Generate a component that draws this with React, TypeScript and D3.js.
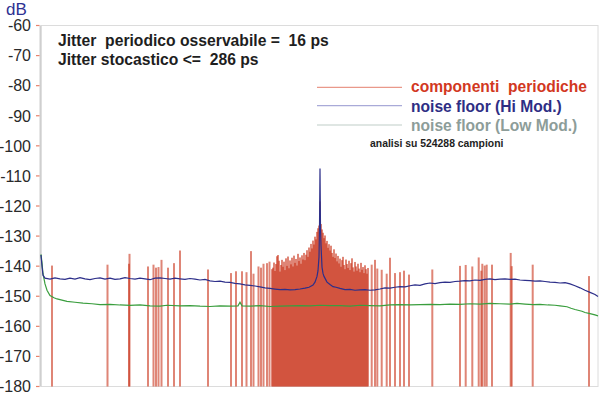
import React from "react";
import * as d3 from "d3";

// offset from the carrier, in FFT bins (carrier at 0)
const binRange = [-279, 278];
const yTicks = [-60, -70, -80, -90, -100, -110, -120, -130, -140, -150, -160, -170, -180];

// periodic components (spurs): bin offset and level in dB
const spurBins = [
  -268, -212.5, -191, -190.5, -172, -166.5, -164, -161.5, -158.5, -152, -146, -140, -112,
  -89, -84, -78, -73.5, -69, -66.5, -61.5, -59, -56.5, -53, -50.5, -48,
  -47, -46, -45, -44, -43, -42, -41, -40, -39, -38, -37, -36, -35, -34, -33, -32, -31, -30,
  -29, -28, -27, -26, -25, -24, -23, -22, -21, -20, -19, -18, -17, -16, -15, -14, -13, -12,
  -11, -10, -9, -8, -7, -6, -5, -4, -3, -2, -1, 0,
  1, 2, 3, 4, 5, 6, 7, 8, 9, 10, 11, 12, 13, 14, 15, 16, 17, 18, 19, 20, 21, 22, 23, 24,
  25, 26, 27, 28, 29, 30, 31, 32, 33, 34, 35, 36, 37, 38, 39, 40, 41, 42, 43, 44, 45, 46, 47, 48,
  51.7, 55, 57.3, 61.7, 66.7, 70, 75, 80, 84, 89, 112.3, 140, 145.7, 152.3, 158.7, 161.3,
  162.3, 164.7, 166.7, 172, 190.7, 191.7, 212.7, 269,
];
const spurLevels = [
  -139.8, -139.5, -139.2, -135.9, -140.1, -139.5, -140.5, -140.3, -137.9, -140.5, -139.0, -134.8, -141.1,
  -142.3, -141.7, -141.7, -142.0, -135.0, -142.5, -140.1, -140.5, -139.2, -139.0, -138.5, -141.0,
  -140.5, -138.8, -141.6, -139.3, -136.7, -136.3, -138.2, -141.8, -139.6, -137.9, -140.2, -138.5, -141.3, -137.4, -139.9, -136.8, -140.7, -138.1,
  -139.4, -137.2, -140.1, -136.5, -138.9, -137.6, -139.8, -135.9, -138.3, -137.1, -139.2, -136.4, -137.8, -135.6, -138.0, -136.2, -134.7, -136.9,
  -133.8, -135.2, -132.6, -134.1, -131.5, -132.8, -130.2, -131.1, -128.6, -127.4, -126.5, -118.5,
  -126.0, -127.8, -128.9, -130.7, -129.8, -132.4, -131.6, -133.9, -132.7, -134.8, -133.2, -135.6, -136.9, -134.4, -137.3, -135.8, -138.4, -136.6, -139.1, -137.5, -140.2, -138.0, -136.9, -139.6,
  -141.0, -137.8, -139.3, -140.6, -138.2, -141.3, -139.0, -137.4, -140.4, -141.8, -138.6, -140.1, -141.5, -139.2, -140.8, -142.0, -138.9, -141.2, -140.3, -142.3, -139.7, -141.0, -142.5, -140.6,
  -139.5, -137.9, -140.8, -141.2, -142.5, -137.2, -142.3, -142.0, -141.5, -142.8, -141.1, -139.9, -139.6, -140.1, -137.1, -141.5,
  -139.2, -139.8, -139.5, -139.5, -135.6, -140.0, -139.5, -143.3,
];

// noise floor, high modulation
const hiBins = [
  -279, -278, -277, -275, -270, -265, -260, -255, -250, -245, -240, -235, -230, -225, -220, -215,
  -210, -205, -200, -195, -190, -185, -180, -175, -170, -165, -160, -155, -150, -145, -140, -135,
  -130, -125, -120, -115, -110, -105, -100, -95, -90, -85, -80, -75, -70, -65, -60, -55, -50,
  -45, -40, -35, -30, -25, -20, -15, -11, -7, -5, -3, -2, -1, -0.5, 0, 0.5, 1, 2, 3, 4, 7,
  10, 13, 16, 20, 25, 30, 35, 40, 45, 50, 55, 60, 65, 70, 75, 80, 85, 90, 95, 100, 105, 110,
  115, 120, 125, 130, 135, 140, 145, 150, 155, 160, 165, 170, 175, 180, 185, 190, 195, 200,
  205, 210, 215, 220, 225, 230, 235, 240, 245, 250, 255, 260, 265, 270, 275, 278,
];
const hiLevels = [
  -136.3, -140.0, -143.0, -144.0, -144.3, -143.9, -144.2, -144.4, -144.0, -144.3, -143.8, -144.2, -144.5, -144.1, -143.9, -144.3,
  -144.0, -144.4, -144.2, -143.8, -144.1, -144.3, -144.0, -144.2, -144.5, -144.0, -143.9, -144.1, -144.3, -144.0, -144.2, -144.4,
  -144.1, -144.3, -144.6, -144.4, -144.9, -145.1, -145.0, -145.3, -145.4, -145.7, -145.9, -146.2, -146.4, -146.6, -146.9, -147.2, -147.4,
  -147.6, -147.8, -147.7, -147.9, -147.8, -147.6, -147.3, -147.0, -146.3, -145.3, -143.4, -141.5, -137.0, -127.0, -107.5, -127.5, -133.0, -140.3, -142.4, -143.4, -145.3,
  -146.1, -146.8, -147.0, -147.4, -147.8, -147.7, -148.0, -147.9, -147.8, -148.0, -147.9, -147.6, -147.2, -147.3, -147.0, -146.8, -146.9, -146.5, -146.2, -146.4, -145.9, -145.6,
  -145.8, -145.5, -145.3, -145.4, -145.1, -145.0, -144.8, -144.9, -144.6, -144.7, -144.4, -144.2, -144.5, -144.3, -144.2, -144.4, -144.3, -144.6,
  -144.7, -144.8, -145.0, -144.9, -145.1, -145.3, -145.4, -145.6, -145.5, -145.9, -146.5, -147.2, -148.0, -148.7, -149.4, -150.1,
];

// noise floor, low modulation
const loBins = [
  -279, -278, -277, -275, -273, -270, -266, -263, -258, -253, -245, -237, -228, -220, -210, -200,
  -190, -180, -170, -160, -153, -140, -130, -120, -110, -100, -90, -82, -80, -78, -70, -60, -50,
  -40, -30, -20, -10, 0, 10, 20, 30, 40, 50, 60, 70, 80, 90, 100, 110, 120, 130, 140, 150, 160,
  170, 180, 190, 197, 205, 213, 220, 228, 235, 240, 247, 251, 255, 262, 265, 270, 275, 278,
];
const loLevels = [
  -136.1, -139.0, -142.5, -145.9, -148.0, -149.8, -150.5, -150.9, -151.3, -151.7, -152.0, -152.3, -152.5, -152.8, -152.7, -152.9,
  -153.0, -152.9, -153.2, -153.3, -153.0, -153.2, -153.1, -153.3, -153.4, -153.2, -153.3, -153.2, -152.0, -153.2, -153.3, -153.1, -153.4,
  -153.3, -153.2, -153.1, -153.2, -153.0, -153.1, -153.1, -153.3, -153.0, -153.1, -153.2, -152.9, -152.8, -152.9, -152.8, -152.7, -152.8, -152.6, -152.7, -152.5, -152.6,
  -152.4, -152.5, -152.6, -152.4, -152.6, -152.8, -152.7, -152.9, -153.0, -153.2, -153.5, -154.0, -154.4, -155.0, -155.4, -155.8, -156.2, -156.5,
];

const left = 41;
const right = 598;
const top = 25.5;
const bottom = 386.5;

export default function App() {
  const x = d3.scaleLinear().domain(binRange).range([left, right]);
  const y = d3.scaleLinear().domain([-60, -180]).range([top, bottom]);

  const hiPts: [number, number][] = hiBins.map((b, i) => [b, hiLevels[i]]);
  const loPts: [number, number][] = loBins.map((b, i) => [b, loLevels[i]]);
  const line = d3
    .line<[number, number]>()
    .x((d) => x(d[0]))
    .y((d) => y(d[1]));

  const font = "'Liberation Sans', Arial, sans-serif";

  return (
    <svg
      width={600}
      height={395}
      style={{ position: "absolute", left: 0, top: 0, background: "#fff" }}
      fontFamily={font}
    >
      {/* frame */}
      <rect x={left} y={top} width={right - left} height={bottom - top} fill="none" stroke="#dcdcdc" strokeWidth={1} />
      <line x1={left - 0.5} x2={left - 0.5} y1={top} y2={bottom} stroke="#cfcfcf" strokeWidth={2} />

      {/* y axis */}
      {yTicks.map((t) => (
        <g key={t}>
          <line x1={36} x2={39.5} y1={y(t)} y2={y(t)} stroke="#e8826c" strokeWidth={1.2} />
          <text x={31} y={y(t)} dy="0.36em" textAnchor="end" fontSize={16} fill="#2a2a2a">
            {t}
          </text>
        </g>
      ))}
      <text x={6} y={15} fontSize={17} fill="#2e3192">
        dB
      </text>

      {/* spurs */}
      <g fill="#c9341b" fillOpacity={0.6}>
        {spurBins.map((b, i) => (
          <rect key={i} x={x(b) - 1} y={y(spurLevels[i])} width={2} height={bottom - y(spurLevels[i])} />
        ))}
      </g>

      {/* noise floors */}
      <path d={line(loPts) || ""} fill="none" stroke="#3a9e3e" strokeWidth={1.2} />
      <path d={line(hiPts) || ""} fill="none" stroke="#2d2f8a" strokeWidth={1.2} />

      {/* header */}
      <g fontWeight="bold" fontSize={15.7} fill="#1e1e1e">
        <text x={58} y={46} style={{ whiteSpace: "pre" }}>
          {"Jitter  periodico osservabile =  16 ps"}
        </text>
        <text x={58} y={64.5} style={{ whiteSpace: "pre" }}>
          {"Jitter stocastico <=  286 ps"}
        </text>
      </g>

      {/* legend */}
      <line x1={317} x2={402} y1={87.3} y2={87.3} stroke="#e9998a" strokeWidth={1.2} />
      <line x1={317} x2={402} y1={105.7} y2={105.7} stroke="#a9aad8" strokeWidth={1.2} />
      <line x1={317} x2={402} y1={125} y2={125} stroke="#bfcdc7" strokeWidth={1.2} />
      <g fontWeight="bold" fontSize={15.6}>
        <text x={411} y={91.7} fill="#d2381f" style={{ whiteSpace: "pre" }}>
          {"componenti  periodiche"}
        </text>
        <text x={411} y={111.5} fill="#2e2e84">
          noise floor (Hi Mod.)
        </text>
        <text x={411} y={131} fill="#8d9d99">
          noise floor (Low Mod.)
        </text>
      </g>
      <text x={370} y={147.3} fontWeight="bold" fontSize={10.4} fill="#1e1e1e">
        analisi su 524288 campioni
      </text>
    </svg>
  );
}
